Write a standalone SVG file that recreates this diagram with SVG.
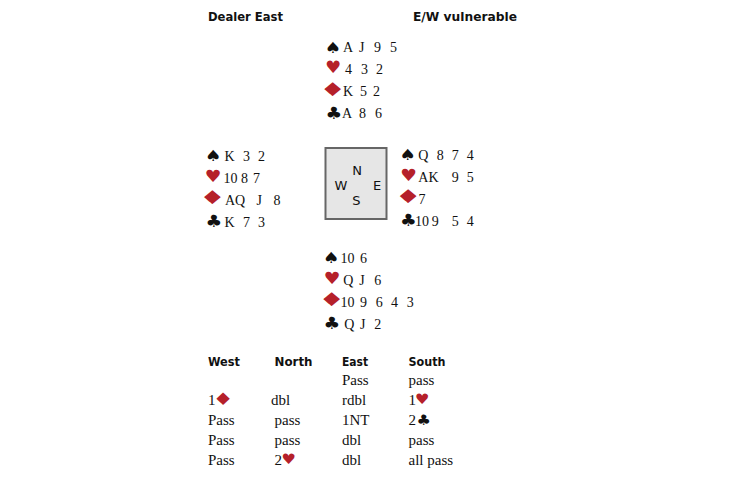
<svg xmlns="http://www.w3.org/2000/svg" width="730" height="486" viewBox="0 0 730 486">
<style>
.hd{font-family:"DejaVu Sans",sans-serif;font-weight:bold;font-size:11.6px;fill:#111}
.cd{font-family:"Liberation Serif",serif;font-size:14px;fill:#111}
.au{font-family:"Liberation Serif",serif;font-size:15px;fill:#111}
.tight{letter-spacing:-3px}
.sp,.ht,.dm,.cl{font-family:"DejaVu Sans",sans-serif}
.sp{font-size:15.5px;fill:#111}
.cl{font-size:17px;fill:#111;letter-spacing:-3px}
.ht{font-size:17px;fill:#b5202a}
.dm{font-size:19px;fill:#b5202a;letter-spacing:-5px}
.cp{font-family:"DejaVu Sans",sans-serif;font-size:13px;fill:#111;text-anchor:middle}
</style>
<rect width="730" height="486" fill="#ffffff"/>
<g id="header">
<text class="hd" x="208" y="21" textLength="75" lengthAdjust="spacingAndGlyphs">Dealer East</text>
<text class="hd" x="413" y="21" textLength="104" lengthAdjust="spacingAndGlyphs">E/W vulnerable</text>
</g>
<g id="north">
<text class="sp" transform="translate(324.8 53) scale(1.2 1)">♠</text>
<text class="cd" y="52"><tspan x="343">A</tspan><tspan x="359">J</tspan><tspan x="374">9</tspan><tspan x="390">5</tspan></text>
<text class="ht" transform="translate(325 73) scale(1.05 1)">♥</text>
<text class="cd" y="74"><tspan x="345">4</tspan><tspan x="361">3</tspan><tspan x="376">2</tspan></text>
<text class="dm" transform="translate(319.5 96) scale(1.55 1)">♦</text>
<text class="cd" y="96"><tspan x="343">K</tspan><tspan x="360">5</tspan><tspan x="373">2</tspan></text>
<text class="cl" transform="translate(325.5 118.5) scale(1.1 1)">♣</text>
<text class="cd" y="118"><tspan x="342">A</tspan><tspan x="359">8</tspan><tspan x="375">6</tspan></text>
</g>
<g id="west">
<text class="sp" transform="translate(205 161) scale(1.2 1)">♠</text>
<text class="cd" y="161"><tspan x="224.5">K</tspan><tspan x="243">3</tspan><tspan x="258">2</tspan></text>
<text class="ht" transform="translate(204.5 182) scale(1.1 1)">♥</text>
<text class="cd" y="183"><tspan x="223.5">10</tspan><tspan x="241">8</tspan><tspan x="253">7</tspan></text>
<text class="dm" transform="translate(199.3 204) scale(1.55 1)">♦</text>
<text class="cd" y="205"><tspan x="225">AQ</tspan><tspan x="256.5">J</tspan><tspan x="273.5">8</tspan></text>
<text class="cl" transform="translate(205.5 227) scale(1.1 1)">♣</text>
<text class="cd" y="227"><tspan x="224.5">K</tspan><tspan x="243">7</tspan><tspan x="258">3</tspan></text>
</g>
<g id="compass">
<rect x="325.5" y="148" width="61" height="71" fill="#e6e6e6" stroke="#666666" stroke-width="2"/>
<text class="cp" x="357" y="175">N</text>
<text class="cp" x="341" y="190">W</text>
<text class="cp" x="377" y="190">E</text>
<text class="cp" x="356.5" y="205">S</text>
</g>
<g id="east">
<text class="sp" transform="translate(399.5 160) scale(1.2 1)">♠</text>
<text class="cd" y="160"><tspan x="418.3">Q</tspan><tspan x="436.7">8</tspan><tspan x="451.7">7</tspan><tspan x="466.7">4</tspan></text>
<text class="ht" transform="translate(400 180.5) scale(1.1 1)">♥</text>
<text class="cd" y="182"><tspan x="418.3">AK</tspan><tspan x="451.7">9</tspan><tspan x="466.7">5</tspan></text>
<text class="dm" transform="translate(395 202.5) scale(1.55 1)">♦</text>
<text class="cd" y="204"><tspan x="418.5">7</tspan></text>
<text class="cl" transform="translate(400 225.5) scale(1.1 1)">♣</text>
<text class="cd" y="226"><tspan x="415">10</tspan><tspan x="431.7">9</tspan><tspan x="451.7">5</tspan><tspan x="466.7">4</tspan></text>
</g>
<g id="south">
<text class="sp" transform="translate(323 263) scale(1.2 1)">♠</text>
<text class="cd" y="263"><tspan x="340.5">10</tspan><tspan x="360">6</tspan></text>
<text class="ht" transform="translate(323.5 284) scale(1.1 1)">♥</text>
<text class="cd" y="285"><tspan x="343.3">Q</tspan><tspan x="359.3">J</tspan><tspan x="374.3">6</tspan></text>
<text class="dm" transform="translate(318.6 306) scale(1.55 1)">♦</text>
<text class="cd" y="307"><tspan x="340.5">10</tspan><tspan x="360">9</tspan><tspan x="375.7">6</tspan><tspan x="391">4</tspan><tspan x="406.7">3</tspan></text>
<text class="cl" transform="translate(323.5 329) scale(1.1 1)">♣</text>
<text class="cd" y="329"><tspan x="344.3">Q</tspan><tspan x="360">J</tspan><tspan x="374.3">2</tspan></text>
</g>
<g id="auction">
<text class="hd" x="208" y="366" textLength="32" lengthAdjust="spacingAndGlyphs">West</text>
<text class="hd" x="274.5" y="366" textLength="38" lengthAdjust="spacingAndGlyphs">North</text>
<text class="hd" x="342" y="366" textLength="26" lengthAdjust="spacingAndGlyphs">East</text>
<text class="hd" x="408.5" y="366" textLength="37" lengthAdjust="spacingAndGlyphs">South</text>
<text class="au" x="342" y="385">Pass</text>
<text class="au" x="408.5" y="385">pass</text>
<text class="au tight" x="208" y="405">1</text>
<text class="dm" transform="translate(212.5 404.5) scale(1.25 0.9)">♦</text>
<text class="au" x="271" y="405">dbl</text>
<text class="au" x="342" y="405">rdbl</text>
<text class="au" x="408.5" y="405">1</text>
<text class="ht" transform="translate(415 404) scale(0.95 0.85)">♥</text>
<text class="au" x="208" y="425">Pass</text>
<text class="au" x="274.5" y="425">pass</text>
<text class="au" x="342" y="425">1NT</text>
<text class="au" x="408.5" y="425">2</text>
<text class="cl" transform="translate(416.5 425) scale(0.95 0.85)">♣</text>
<text class="au" x="208" y="445">Pass</text>
<text class="au" x="274.5" y="445">pass</text>
<text class="au" x="342" y="445">dbl</text>
<text class="au" x="408.5" y="445">pass</text>
<text class="au" x="208" y="465">Pass</text>
<text class="au" x="274.5" y="465">2</text>
<text class="ht" transform="translate(281.5 464) scale(0.95 0.85)">♥</text>
<text class="au" x="342" y="465">dbl</text>
<text class="au" x="408.5" y="465">all pass</text>
</g>
</svg>
